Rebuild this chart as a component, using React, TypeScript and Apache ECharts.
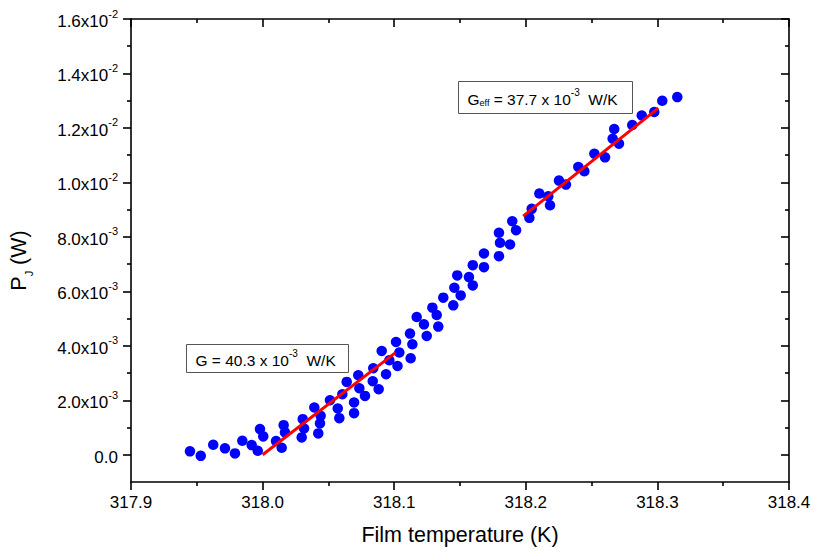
import React, { useEffect, useRef } from "react";
import * as echarts from "echarts";

// Film temperature (K) of each measured point
const temperatureK = [
  317.9448, 317.953, 317.9625, 317.9714, 317.979, 317.9846, 317.9917, 317.9963, 317.998, 318.0005,
  318.0102, 318.0145, 318.016, 318.017, 318.0297, 318.0305, 318.0315, 318.0393, 318.0423, 318.0441,
  318.0436, 318.0512, 318.0571, 318.0583, 318.0606, 318.0639, 318.0695, 318.0695, 318.0727, 318.0735,
  318.0778, 318.0837, 318.0841, 318.0882, 318.0905, 318.0938, 318.0963, 318.1014, 318.1025, 318.1039,
  318.112, 318.1138, 318.1125, 318.1171, 318.1226, 318.1247, 318.129, 318.1323, 318.1335, 318.1373,
  318.1449, 318.1457, 318.1479, 318.1505, 318.1568, 318.1597, 318.1597, 318.1682, 318.1682, 318.1796,
  318.1804, 318.1796, 318.188, 318.1897, 318.1926, 318.2027, 318.2045, 318.2103, 318.2171, 318.2184,
  318.2252, 318.2305, 318.2399, 318.2445, 318.2521, 318.2602, 318.266, 318.2672, 318.2708, 318.2809,
  318.2881, 318.2976, 318.3037, 318.3151,
];

// Joule power P_J of each point, in units of 10^-3 W
const powerMilliW = [
  0.125, -0.04, 0.366, 0.235, 0.051, 0.513, 0.355, 0.147, 0.942, 0.674,
  0.502, 0.256, 1.088, 0.821, 0.638, 1.308, 0.967, 1.737, 0.784, 1.429,
  1.151, 2.004, 1.7, 1.345, 2.224, 2.675, 1.92, 1.528, 2.92, 2.444,
  2.162, 2.701, 3.177, 2.407, 3.811, 2.957, 3.47, 4.141, 3.261, 3.752,
  4.449, 4.056, 3.543, 5.057, 4.789, 4.361, 5.401, 5.13, 4.705, 5.768,
  5.486, 6.134, 6.585, 5.852, 6.523, 6.218, 6.962, 7.391, 6.889, 8.15,
  7.783, 7.292, 7.721, 8.575, 8.245, 8.699, 9.029, 9.59, 9.491, 9.161,
  10.066, 9.919, 10.568, 10.407, 11.055, 10.92, 11.605, 11.961, 11.422, 12.107,
  12.459, 12.583, 12.997, 13.133,
];

// Linear fits (end points)
const fitLowT = [318.0, 318.101];
const fitLowP = [0, 0.00375];
const fitHighT = [318.198, 318.3007];
const fitHighP = [0.00876, 0.01273];

// Axis ticks
const xMin = 317.9;
const xMax = 318.4;
const xStep = 0.1;
const yMin = -0.001;
const yMax = 0.016;
const yMajorTicks = [0, 0.002, 0.004, 0.006, 0.008, 0.01, 0.012, 0.014, 0.016];
const yMinorTicks = [0.001, 0.003, 0.005, 0.007, 0.009, 0.011, 0.013, 0.015];

// Annotations (anchored at top-left corner in data space)
const annotations = [
  { t: 317.9418, p: 0.004056, w: 162, h: 28, text: "{t|G = 40.3 x 10}{s|-3}{t|  W/K}" },
  { t: 318.1487, p: 0.01374, w: 174, h: 32, text: "{t|G}{sub|eff}{t| = 37.7 x 10}{s|-3}{t|  W/K}" },
];

const FONT = "'Liberation Sans', Arial, Helvetica, sans-serif";

function yLabel(v: number): string {
  if (Math.abs(v) < 1e-9) return "{b|0.0}";
  let e = -3;
  let m = v * 1000;
  if (v >= 0.00999) {
    e = -2;
    m = v * 100;
  }
  return `{b|${m.toFixed(1)}x10}{s|${e}}`;
}

const supRich = {
  b: { fontSize: 17, lineHeight: 22, verticalAlign: "bottom", fontFamily: FONT, color: "#000" },
  s: { fontSize: 11, lineHeight: 11, verticalAlign: "top", fontFamily: FONT, color: "#000" },
};

export default function App() {
  const ref = useRef<HTMLDivElement>(null);
  useEffect(() => {
    if (!ref.current) return;
    const chart = echarts.init(ref.current, undefined, { renderer: "svg" });
    const axisLineStyle = { color: "#000", width: 1.6 };
    const baseX = {
      type: "value" as const,
      min: xMin,
      max: xMax,
      interval: xStep,
      splitLine: { show: false },
      minorSplitLine: { show: false },
      axisLine: { show: true, onZero: false, lineStyle: axisLineStyle },
      minorTick: { show: true, splitNumber: 2, length: 4, lineStyle: axisLineStyle },
    };
    const baseY = {
      type: "value" as const,
      min: yMin,
      max: yMax,
      splitLine: { show: false },
      axisLine: { show: true, onZero: false, lineStyle: axisLineStyle },
    };
    const points = temperatureK.map((t, i) => [t, powerMilliW[i] / 1000]);
    chart.setOption({
      animation: false,
      backgroundColor: "#fff",
      textStyle: { fontFamily: FONT },
      grid: { left: 131, right: 25, top: 19, bottom: 68, containLabel: false },
      xAxis: [
        {
          ...baseX,
          position: "bottom",
          axisTick: { show: true, inside: false, length: 8, lineStyle: axisLineStyle },
          axisLabel: {
            show: true,
            margin: 12,
            fontSize: 17,
            color: "#000",
            fontFamily: FONT,
            formatter: (v: number) => v.toFixed(1),
          },
          name: "Film temperature (K)",
          nameLocation: "middle",
          nameGap: 42,
          nameTextStyle: { fontSize: 21.5, color: "#000", fontFamily: FONT },
        },
        {
          ...baseX,
          position: "top",
          axisTick: { show: true, inside: true, length: 8, lineStyle: axisLineStyle },
          axisLabel: { show: false },
        },
      ],
      yAxis: [
        {
          ...baseY,
          position: "left",
          axisTick: { show: true, inside: false, length: 8, lineStyle: axisLineStyle, customValues: yMajorTicks },
          axisLabel: {
            show: true,
            margin: 13,
            customValues: yMajorTicks,
            formatter: yLabel,
            rich: supRich,
          },
          name: "{b|P}{sub|J}{b| (W)}",
          nameLocation: "middle",
          nameGap: 97,
          nameTextStyle: {
            padding: [0, 20, 0, 0],
            rich: {
              b: { fontSize: 21.5, lineHeight: 26, fontFamily: FONT, color: "#000", verticalAlign: "top" },
              sub: { fontSize: 11, lineHeight: 26, fontFamily: FONT, color: "#000", verticalAlign: "bottom", padding: [9, 0, 0, 0] },
            },
          },
        },
        {
          ...baseY,
          position: "left",
          axisLine: { show: false },
          axisTick: { show: true, inside: false, length: 4, lineStyle: axisLineStyle, customValues: yMinorTicks },
          axisLabel: { show: false },
        },
        {
          ...baseY,
          position: "right",
          axisTick: { show: true, inside: true, length: 8, lineStyle: axisLineStyle, customValues: yMajorTicks },
          axisLabel: { show: false },
        },
        {
          ...baseY,
          position: "right",
          axisLine: { show: false },
          axisTick: { show: true, inside: true, length: 4, lineStyle: axisLineStyle, customValues: yMinorTicks },
          axisLabel: { show: false },
        },
      ],
      series: [
        {
          type: "scatter",
          xAxisIndex: 0,
          yAxisIndex: 0,
          symbol: "circle",
          symbolSize: 10.5,
          itemStyle: { color: "#0000ff", opacity: 1 },
          data: points,
          z: 2,
        },
        {
          type: "line",
          xAxisIndex: 0,
          yAxisIndex: 0,
          showSymbol: false,
          symbol: "none",
          lineStyle: { color: "#ff0000", width: 3 },
          data: fitLowT.map((t, i) => [t, fitLowP[i]]),
          z: 3,
        },
        {
          type: "line",
          xAxisIndex: 0,
          yAxisIndex: 0,
          showSymbol: false,
          symbol: "none",
          lineStyle: { color: "#ff0000", width: 3 },
          data: fitHighT.map((t, i) => [t, fitHighP[i]]),
          z: 3,
        },
      ],
    });

    const graphics = annotations.map((a) => {
      const pt = chart.convertToPixel({ xAxisIndex: 0, yAxisIndex: 0 }, [a.t, a.p]) as number[];
      return {
        type: "group",
        x: Math.round(pt[0]) + 0.5,
        y: Math.round(pt[1]) + 0.5,
        z: 10,
        children: [
          {
            type: "rect",
            shape: { x: 0, y: 0, width: a.w, height: a.h },
            style: { fill: "#fff", stroke: "#555", lineWidth: 1 },
          },
          {
            type: "text",
            x: 9,
            y: a.h / 2,
            style: {
              text: a.text,
              verticalAlign: "middle",
              rich: {
                t: { fontSize: 15.5, lineHeight: 20, verticalAlign: "bottom", fontFamily: FONT, fill: "#000" },
                s: { fontSize: 10, lineHeight: 10, verticalAlign: "top", fontFamily: FONT, fill: "#000" },
                sub: { fontSize: 9, lineHeight: 9, verticalAlign: "bottom", fontFamily: FONT, fill: "#000" },
              },
            },
          },
        ],
      };
    });
    chart.setOption({ graphic: graphics });

    return () => chart.dispose();
  }, []);

  return (
    <div
      ref={ref}
      style={{ position: "fixed", left: 0, top: 0, width: 814, height: 551, background: "#fff" }}
    />
  );
}
